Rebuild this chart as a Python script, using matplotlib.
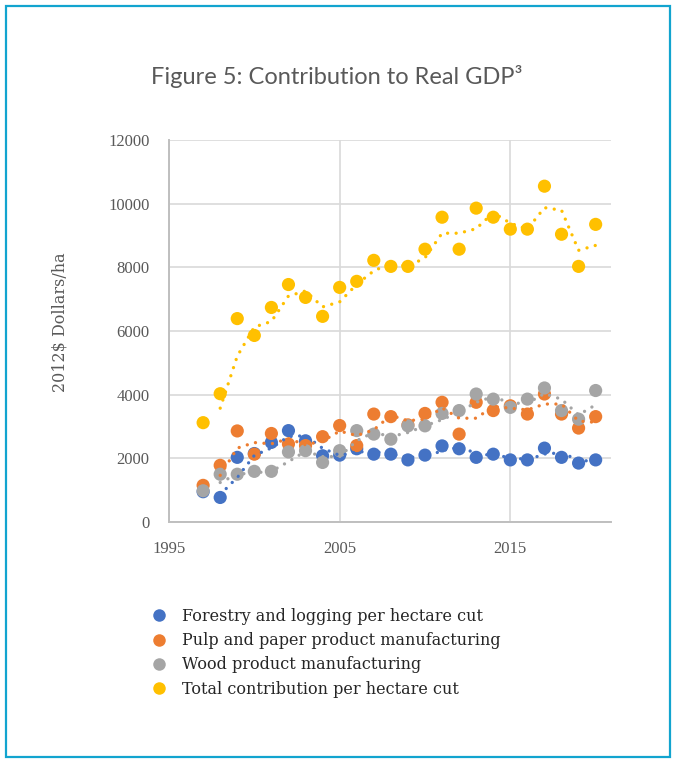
import numpy as np
import pandas as pd
import matplotlib
matplotlib.use("Agg")
import matplotlib.pyplot as plt
from matplotlib.lines import Line2D
from matplotlib.patches import Rectangle

# GDP contribution per hectare cut, 2012 dollars
years = list(range(1997, 2021))
forestry = [950, 770, 2030, 2150, 2500, 2870, 2550, 2080, 2100, 2300, 2130, 2130,
            1950, 2100, 2390, 2300, 2030, 2130, 1950, 1950, 2320, 2030, 1850, 1950]
pulp = [1150, 1780, 2860, 2130, 2780, 2450, 2400, 2680, 3030, 2400, 3390, 3310,
        3050, 3410, 3760, 2760, 3760, 3500, 3650, 3390, 4020, 3390, 2950, 3310]
wood = [980, 1500, 1500, 1590, 1590, 2200, 2240, 1870, 2240, 2870, 2760, 2600,
        3020, 3020, 3410, 3500, 4020, 3860, 3600, 3860, 4210, 3500, 3230, 4130]
total = [3120, 4030, 6390, 5860, 6740, 7460, 7055, 6460, 7370, 7560, 8220, 8030,
         8030, 8570, 9575, 8570, 9860, 9575, 9200, 9200, 10550, 9040, 8030, 9350]

labels = ["Forestry and logging per hectare cut",
          "Pulp and paper product manufacturing",
          "Wood product manufacturing",
          "Total contribution per hectare cut"]
colors = ["#4472C4", "#ED7D31", "#A5A5A5", "#FFC000"]
series = [forestry, pulp, wood, total]

serif = "Liberation Serif"
wide_serif = "DejaVu Serif"
grey_txt = "#595959"

fig = plt.figure(figsize=(6.73, 7.59), dpi=100)
ax = fig.add_axes([0.2511, 0.3123, 0.6568, 0.5032])

for i, (vals, c) in enumerate(zip(series, colors)):
    ax.scatter(years, vals, s=90, color=c, edgecolors="none", zorder=3 + i)

# 2-period moving average trendlines, drawn as round dots
for i, (vals, c) in enumerate(zip(series, colors)):
    ma = pd.Series(vals, index=years).rolling(2).mean().dropna()
    ax.plot(ma.index, ma.values, color=c, lw=2.4,
            linestyle=(0, (0.01, 2.55)), dash_capstyle="round", zorder=8 + i)

ax.set_xlim(1995, 2020.9)
ax.set_ylim(0, 12000)
ax.set_xticks([1995, 2005, 2015])
ax.set_yticks(range(0, 12001, 2000))
ax.grid(True, color="#D9D9D9", lw=1.2, zorder=0)
ax.set_axisbelow(True)
ax.tick_params(length=0, colors=grey_txt, labelsize=12)
ax.tick_params(axis="y", pad=14)
ax.tick_params(axis="x", pad=14)
for lab in ax.get_xticklabels() + ax.get_yticklabels():
    lab.set_fontfamily(serif)
for side in ["top", "right"]:
    ax.spines[side].set_visible(False)
for side in ["left", "bottom"]:
    ax.spines[side].set_color("#BFBFBF")
    ax.spines[side].set_linewidth(1.4)

fig.text(60 / 673, 1 - 322 / 759, "2012$ Dollars/ha", rotation=90,
         ha="center", va="center", fontsize=11.5, family=wide_serif, color=grey_txt)

fig.text(337 / 673, 1 - 77 / 759, "Figure 5: Contribution to Real GDP³",
         ha="center", va="center", fontsize=17, family="Lato", color=grey_txt)

handles = [Line2D([], [], marker="o", linestyle="none", markersize=9,
                  markerfacecolor=c, markeredgecolor="none") for c in colors]
fig.legend(handles, labels, loc="upper left",
           bbox_to_anchor=(150 / 673, 1 - 608 / 759), frameon=False,
           prop={"family": wide_serif, "size": 11.5}, handlelength=1.1,
           handletextpad=0.88, labelspacing=0.45, borderpad=0, borderaxespad=0,
           labelcolor="#262626")

fig.patches.append(Rectangle((6 / 673, 2 / 759), 664 / 673, 751 / 759,
                             transform=fig.transFigure, fill=False,
                             edgecolor="#12A4CF", lw=1.6))

fig.savefig("out.png", dpi=100)
